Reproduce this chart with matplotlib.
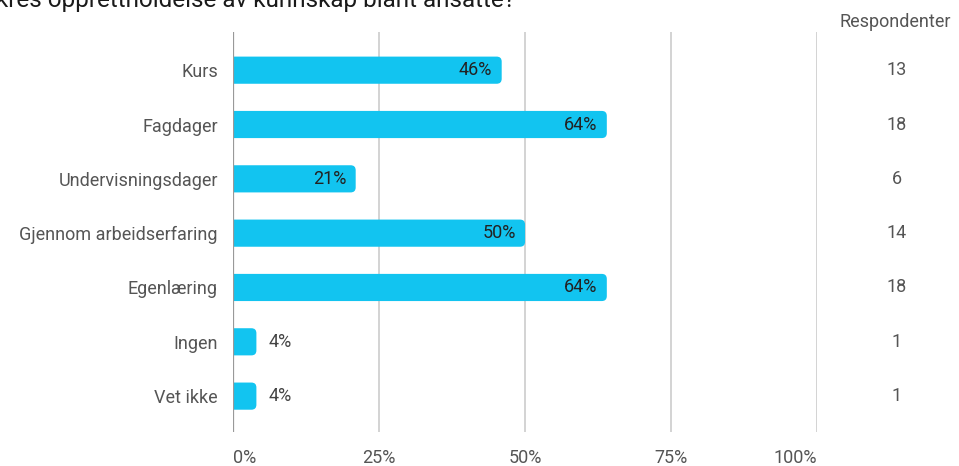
import numpy as np
import matplotlib.pyplot as plt
from matplotlib.patches import FancyBboxPatch

plt.rcParams['font.family'] = ['Roboto', 'DejaVu Sans']

categories = ['Kurs', 'Fagdager', 'Undervisningsdager', 'Gjennom arbeidserfaring',
              'Egenlæring', 'Ingen', 'Vet ikke']
percent = [46, 64, 21, 50, 64, 4, 4]
respondents = [13, 18, 6, 14, 18, 1, 1]
ticks = [0, 25, 50, 75, 100]
tick_labels = ['0%', '25%', '50%', '75%', '100%']

bar_color = '#12c4f0'
grey = '#555555'

fig = plt.figure(figsize=(9.59, 4.66), dpi=100)
ax = fig.add_axes([0.243, 0.073, 0.609, 0.858])

ax.set_xlim(0, 100)
ax.set_ylim(len(categories) - 0.34, -0.70)

# pixel scale, used to keep the corner rounding circular
ax_w = 0.609 * 959
ax_h = 0.858 * 466
px_x = ax_w / 100
px_y = ax_h / (len(categories) - 0.34 + 0.70)
radius = 5 / px_x
aspect = px_x / px_y

bar_h = 0.5
y = np.arange(len(categories))
for yi, v in zip(y, percent):
    box = FancyBboxPatch((-radius * 2, yi - bar_h / 2), v + radius * 2, bar_h,
                         boxstyle=f'round,pad=0,rounding_size={radius}',
                         mutation_aspect=aspect, facecolor=bar_color,
                         edgecolor='none', zorder=2, clip_on=True)
    ax.add_patch(box)
    if v >= 10:
        ax.text(v - 1.6, yi, f'{v}%', ha='right', va='center',
                fontsize=13, color='#222222', zorder=3)
    else:
        ax.text(v + 2.0, yi, f'{v}%', ha='left', va='center',
                fontsize=13, color='#444444', zorder=3)

# vertical grid
for t in ticks[1:]:
    ax.axvline(t, color='#cccccc', lw=1.2, zorder=1)
ax.axvline(0, color='#999999', lw=1.6, zorder=4)

for side in ['top', 'right', 'bottom', 'left']:
    ax.spines[side].set_visible(False)

ax.set_yticks(y)
ax.set_yticklabels(categories, fontsize=13, color=grey)
ax.set_xticks(ticks)
ax.set_xticklabels(tick_labels, fontsize=13, color=grey)
ax.tick_params(axis='both', length=0)
ax.tick_params(axis='y', pad=11)
ax.tick_params(axis='x', pad=12)
# end labels sit inside the plot width
xt = ax.get_xticklabels()
xt[0].set_ha('left')
xt[-1].set_ha('right')

# respondent counts column
for yi, n in zip(y, respondents):
    ax.text(897 / 959, yi, str(n), transform=ax.get_yaxis_transform().__class__(
            fig.transFigure, ax.transData),
            ha='center', va='center', fontsize=13, color=grey, clip_on=False)
fig.text(895 / 959, 1 - 22 / 466, 'Respondenter',
         ha='center', va='center', fontsize=13, color=grey)

fig.text(-0.004, 1 - 7 / 466, 'kres opprettholdelse av kunnskap blant ansatte?',
         ha='left', va='baseline', fontsize=17.5, color='#1a1a1a')

fig.savefig('out.png', dpi=100)
